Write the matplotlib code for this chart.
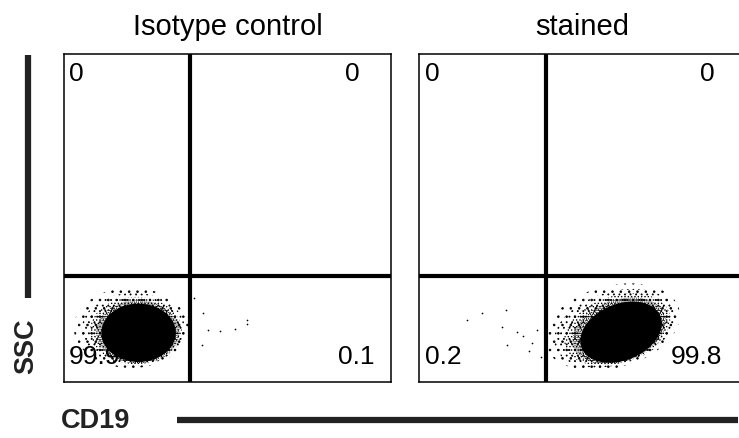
import matplotlib.pyplot as plt
from matplotlib.patches import Ellipse
from matplotlib.lines import Line2D

plt.rcParams['font.family'] = ['Liberation Sans', 'DejaVu Sans']
plt.rcParams['hatch.linewidth'] = 0.6

# Panels
titles = ["Isotype control", "stained"]
# quadrant percentages: upper-left, upper-right, lower-left, lower-right
q_ul = ["0", "0"]
q_ur = ["0", "0"]
q_ll = ["99.9", "0.2"]
q_lr = ["0.1", "99.8"]

# gate positions (channel units, 0-1000)
gate_x = [385, 388]
gate_y = [323, 323]

# population clouds, outer to inner: (center x, center y, width, height, angle, hatch)
clouds = [
    [(205, 165, 350, 245, 0, ".."),
     (212, 161, 315, 222, 0, "..."),
     (220, 157, 280, 205, 0, "....."),
     (226, 153, 255, 192, 0, "........")],
    [(590, 168, 425, 250, 15, ".."),
     (598, 164, 380, 222, 17, "..."),
     (606, 160, 335, 204, 18, "....."),
     (612, 156, 295, 188, 20, "........")],
]
cloud_core = [(228, 150, 228, 178, 0), (618, 152, 260, 172, 22)]

# sparse events outside the main population
stray_x = [[425, 440, 477, 523, 560, 560, 422, 398],
           [147, 193, 254, 266, 269, 318, 345, 372, 336, 300, 360]]
stray_y = [[210, 159, 155, 162, 177, 189, 113, 255],
           [189, 210, 168, 220, 113, 140, 118, 75, 96, 152, 160]]

# quadrant label anchors (axes fraction)
lab_left = [0.016, 0.018]
lab_right_top = [0.905, 0.905]
lab_right_low = [0.951, 0.927]
lab_top = 0.918
lab_low = 0.055

fig = plt.figure(figsize=(7.39, 4.38), dpi=100)
W, H = 739, 438
ax_left = [64, 419]
ax_w, ax_h = 327, 328
ax_bottom = 438 - 382

for i in range(2):
    ax = fig.add_axes([ax_left[i] / W, ax_bottom / H, ax_w / W, ax_h / H])
    ax.set_xlim(0, 1000)
    ax.set_ylim(0, 1000)
    ax.set_xticks([])
    ax.set_yticks([])
    for s in ax.spines.values():
        s.set_linewidth(1.1)

    # population
    for cx, cy, w, h, a, hp in clouds[i]:
        ax.add_patch(Ellipse((cx, cy), w, h, angle=a, facecolor="none",
                             edgecolor="black", lw=0, hatch=hp, zorder=2))
    cx, cy, w, h, a = cloud_core[i]
    ax.add_patch(Ellipse((cx, cy), w, h, angle=a, facecolor="black",
                         edgecolor="black", lw=0, zorder=3))
    ax.scatter(stray_x[i], stray_y[i], s=1.5, c="black", lw=0, zorder=3)

    # gates
    ax.axvline(gate_x[i], color="black", lw=3, zorder=4)
    ax.axhline(gate_y[i], color="black", lw=3, zorder=4)

    # quadrant numbers
    kw = dict(transform=ax.transAxes, va="baseline", fontsize=19, zorder=1)
    ax.text(lab_left[i], lab_top, q_ul[i], ha="left", **kw)
    ax.text(lab_right_top[i], lab_top, q_ur[i], ha="right", **kw)
    ax.text(lab_left[i], lab_low, q_ll[i], ha="left", **kw)
    ax.text(lab_right_low[i], lab_low, q_lr[i], ha="right", **kw)

    ax.text(0.5, 1 + (54 - 35) / ax_h, titles[i], transform=ax.transAxes,
            ha="center", va="baseline", fontsize=21)

# axis markers
fig.add_artist(Line2D([28 / W, 28 / W], [1 - 55 / H, 1 - 298 / H], color="#222222",
                      lw=4.5, solid_capstyle="butt"))
fig.text(26 / W, 1 - 346 / H, "SSC", rotation=90, ha="center", va="center",
         fontsize=19.5, fontweight="bold", color="#222222")
fig.add_artist(Line2D([177 / W, 738 / W], [1 - 420 / H, 1 - 420 / H], color="#222222",
                      lw=4.5, solid_capstyle="butt"))
fig.text(61 / W, 1 - 421 / H, "CD19", ha="left", va="center",
         fontsize=19.5, fontweight="bold", color="#222222")

fig.savefig("out.png", dpi=100)
